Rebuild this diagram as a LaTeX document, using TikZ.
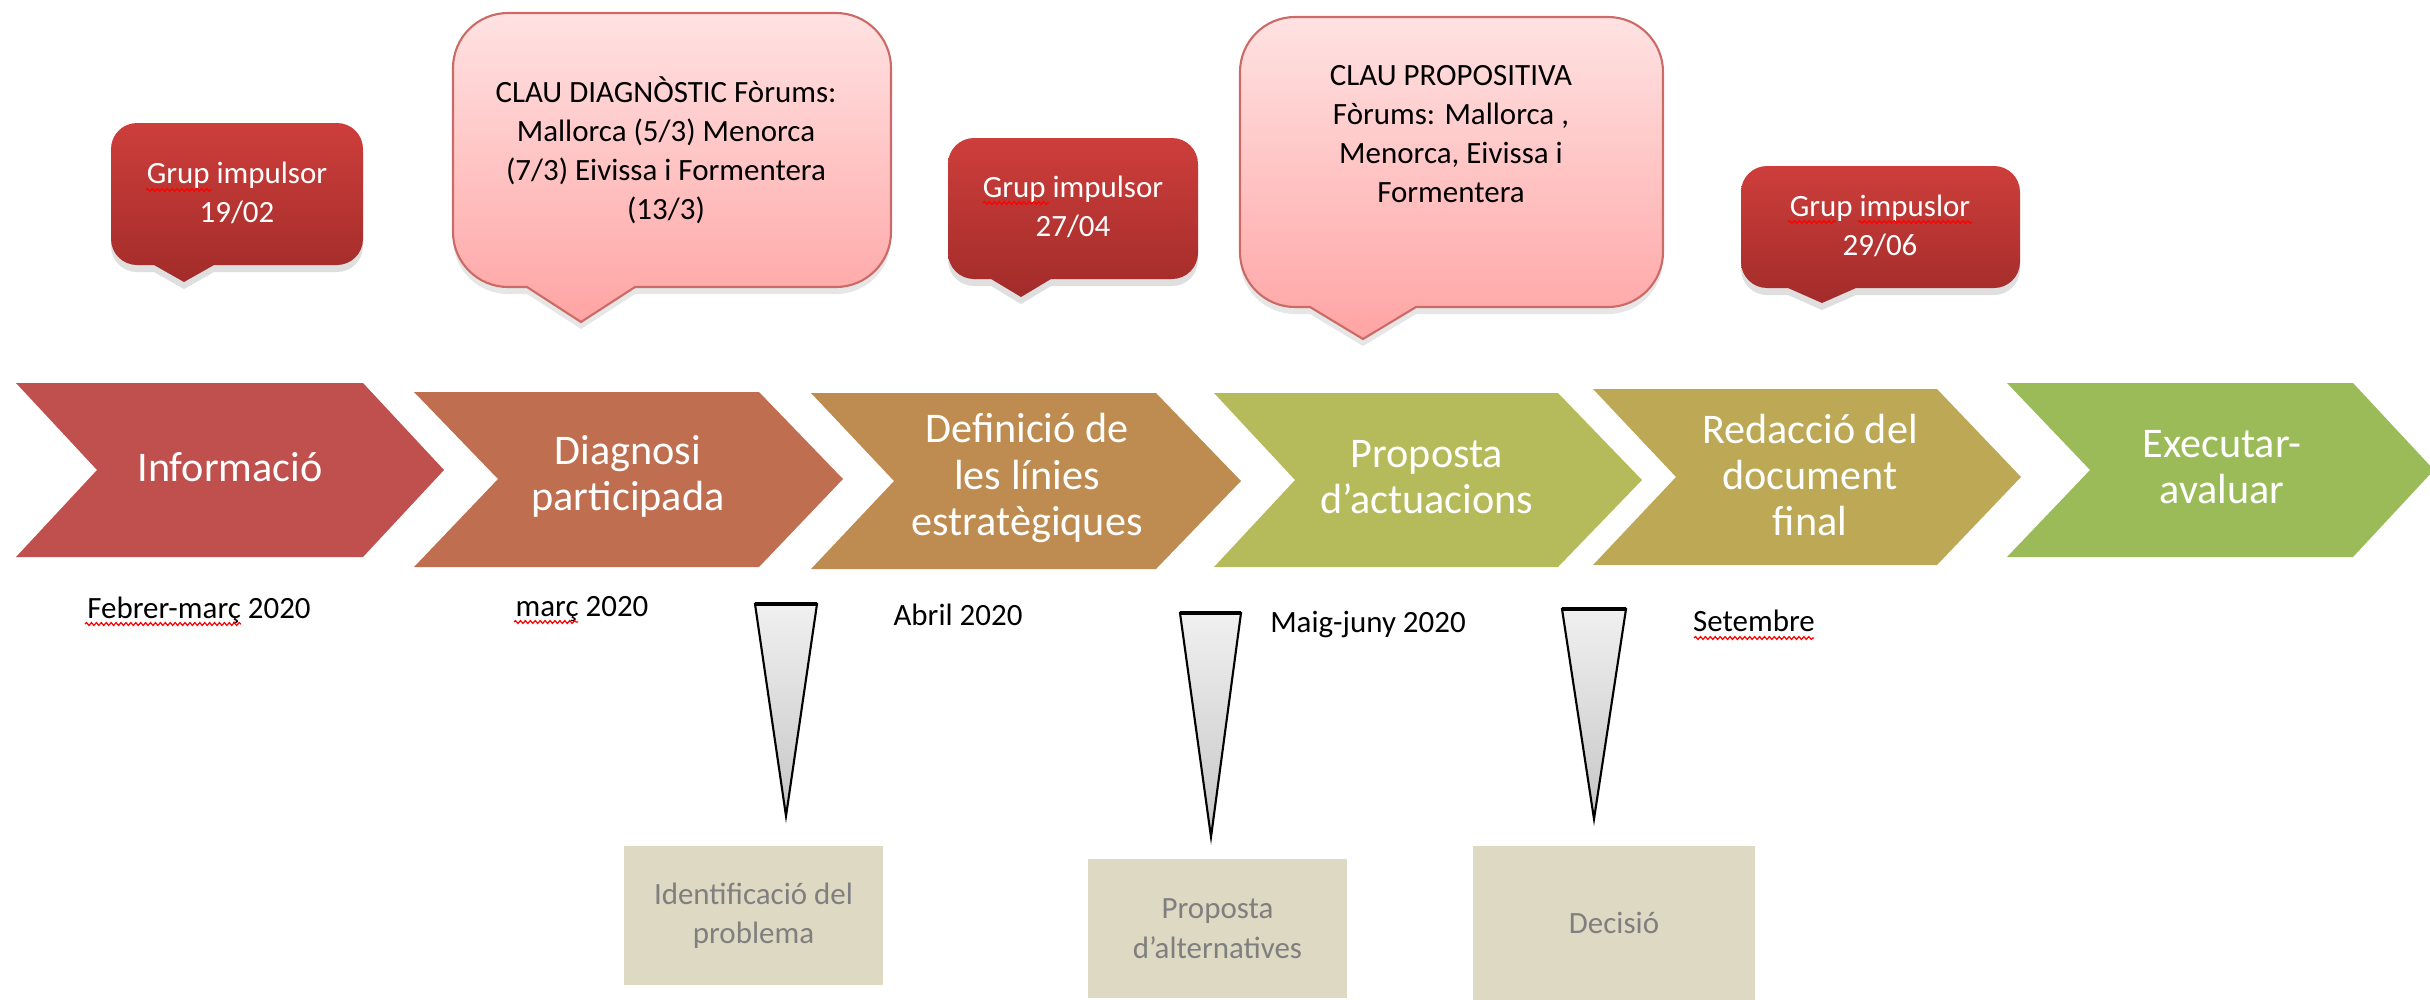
\documentclass[tikz,border=0pt]{standalone}
\usepackage{fontspec}
\setmainfont{Carlito}
\usetikzlibrary{shadows,decorations.pathmorphing}
\definecolor{c1}{HTML}{C0504D}
\definecolor{c2}{HTML}{BF6E4F}
\definecolor{c3}{HTML}{BE8C50}
\definecolor{c4}{HTML}{B5BB5A}
\definecolor{c5}{HTML}{BCA855}
\definecolor{c6}{HTML}{9BBB59}
\definecolor{redtop}{HTML}{CD3E3B}
\definecolor{redbot}{HTML}{A22C2A}
\definecolor{pinktop}{HTML}{FFE2E2}
\definecolor{pinkbot}{HTML}{FFA4A4}
\definecolor{pinkline}{HTML}{CC6A66}
\definecolor{beige}{HTML}{DDD9C3}
\definecolor{beigetext}{HTML}{7F7F7F}
\definecolor{tritop}{HTML}{F0F0F0}
\definecolor{tribot}{HTML}{C6C6C6}
% L TR TIP N T B M colour
\newcommand\chevpath[8]{%
  \fill[#8] (#1,#5) -- (#2,#5) -- (#3,#7) -- (#2,#6) -- (#1,#6) -- (#4,#7) -- cycle;}
% x1 y1 x2 y2 tipx tipy halfbase radius style
\newcommand\bubble[9]{%
  \path[#9] (#1+#8,#2) -- (#3-#8,#2)
      .. controls (#3-0.448*#8,#2) and (#3,#2+0.448*#8) .. (#3,#2+#8)
    -- (#3,#4-#8)
      .. controls (#3,#4-0.448*#8) and (#3-0.448*#8,#4) .. (#3-#8,#4)
    -- (#5+#7,#4) -- (#5,#6) -- (#5-#7,#4)
    -- (#1+#8,#4)
      .. controls (#1+0.448*#8,#4) and (#1,#4-0.448*#8) .. (#1,#4-#8)
    -- (#1,#2+#8)
      .. controls (#1,#2+0.448*#8) and (#1+0.448*#8,#2) .. (#1+#8,#2) -- cycle;}
% x1 x2 y tipx tipy
\newcommand\funnel[5]{%
  \path[top color=tritop,bottom color=tribot,draw=black,line width=0.6pt,
        drop shadow={shadow xshift=0pt,shadow yshift=-1.5pt,opacity=0.12}]
    (#1,#3) -- (#2,#3) -- (#4,#5) -- cycle;
  \draw[line width=1.4pt] (#1,#3) -- (#2,#3);}
\tikzset{
  chevtext/.style={text=white,font=\fontsize{12}{13.1}\selectfont,align=center,inner sep=0pt},
  smalltext/.style={font=\fontsize{8.8}{11.1}\selectfont,align=center,inner sep=0pt},
  redbubble/.style={top color=redtop,bottom color=redbot,
     drop shadow={shadow xshift=0pt,shadow yshift=-2pt,opacity=0.25}},
  pinkbubble/.style={top color=pinktop,bottom color=pinkbot,draw=pinkline,line width=0.6pt,
     drop shadow={shadow xshift=0pt,shadow yshift=-2pt,opacity=0.2}},
  beigebox/.style={fill=beige,text=beigetext,font=\fontsize{8.8}{11.2}\selectfont,align=center,inner sep=0pt},
  spell/.style={red,line width=0.35pt,decorate,decoration={snake,amplitude=0.4pt,segment length=1.4pt}}
}
\begin{document}
\begin{tikzpicture}[x=0.01cm,y=-0.01cm]
\useasboundingbox (0,0) rectangle (2430,1000);

% chevrons
\chevpath{16}{363}{444}{97}{383}{557}{470}{c1}
\chevpath{414}{759}{843}{498}{392}{567}{479}{c2}
\chevpath{811}{1156}{1241}{894}{393}{569}{481}{c3}
\chevpath{1214}{1558}{1642}{1295}{393}{567}{480}{c4}
\chevpath{1593}{1937}{2021}{1676}{389}{565}{477}{c5}
\chevpath{2007}{2353}{2434}{2090}{383}{557}{470}{c6}

\node[chevtext] (ch1) at (230,467) {Informació};
\node[chevtext] (ch2) at (628,476) {Diagnosi\\participada};
\node[chevtext] (ch3) at (1027,478) {Definició de\\les línies\\estratègiques};
\node[chevtext] (ch4) at (1427,477) {Proposta\\d'actuacions};
\node[chevtext] (ch5) at (1810,475) {Redacció del\\document\\final};
\node[chevtext] (ch6) at (2222,467) {Executar-\\avaluar};

% callouts
\bubble{111}{123}{363}{265}{184}{282}{30}{26}{redbubble}
\bubble{948}{138}{1198}{279}{1021}{297}{30}{26}{redbubble}
\bubble{1741}{166}{2020}{288}{1822}{303}{34}{26}{redbubble}
\bubble{453}{13}{891}{287}{581}{322}{54}{55}{pinkbubble}
\bubble{1240}{17}{1663}{307}{1363}{339}{53}{55}{pinkbubble}

\node[smalltext,text=white] (g1) at (237,193) {Grup impulsor\\19/02};
\node[smalltext,text=white] (g2) at (1073,207) {Grup impulsor\\27/04};
\node[smalltext,text=white] (g3) at (1880,226) {Grup impuslor\\29/06};
\node[smalltext] (k1) at (666,150) {CLAU DIAGNÒSTIC Fòrums:\\Mallorca (5/3) Menorca\\(7/3) Eivissa i Formentera\\(13/3)};
\node[smalltext] (k2) at (1451,134) {CLAU PROPOSITIVA\\Fòrums: Mallorca ,\\Menorca, Eivissa i\\Formentera};

% dates
\node[smalltext,anchor=base] (d1) at (199,618) {Febrer-març 2020};
\node[smalltext,anchor=base] (d2) at (582,616) {març 2020};
\node[smalltext,anchor=base] (d3) at (958,625) {Abril 2020};
\node[smalltext,anchor=base] (d4) at (1368,632) {Maig-juny 2020};
\node[smalltext,anchor=base] (d5) at (1754,631) {Setembre};

% spelling marks
\draw[spell] (85,624) -- (241,624);
\draw[spell] (514,622) -- (578,622);
\draw[spell] (1694,638) -- (1814,638);
\draw[spell] (146,190) -- (212,190);
\draw[spell] (983,203) -- (1049,203);
\draw[spell] (1788,222) -- (1836,222);
\draw[spell] (1858,222) -- (1972,222);

% funnels
\funnel{755}{817}{604}{786}{816}
\funnel{1180}{1241}{613}{1211}{837}
\funnel{1562}{1626}{609}{1594}{819}

% boxes
\node[beigebox,minimum width=259*0.01cm,minimum height=139*0.01cm] (b1) at (753.5,915.5) {Identificació del\\problema};
\node[beigebox,minimum width=259*0.01cm,minimum height=139*0.01cm] (b2) at (1217.5,928.5) {Proposta\\d’alternatives};
\node[beigebox,minimum width=282*0.01cm,minimum height=154*0.01cm] (b3) at (1614,923) {Decisió};
\end{tikzpicture}
\end{document}
